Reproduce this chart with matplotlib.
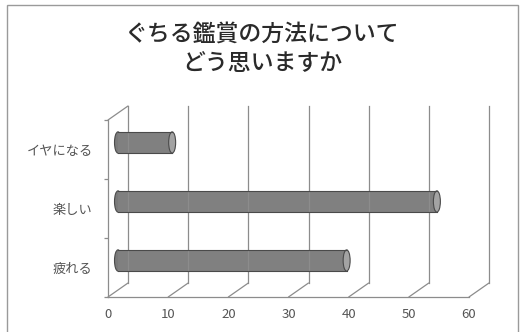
import numpy as np
import matplotlib.pyplot as plt
from matplotlib.patches import Rectangle, Ellipse
from matplotlib.transforms import offset_copy

plt.rcParams['font.family'] = ['Noto Sans CJK JP', 'DejaVu Sans']

# データ（下から順）
categories = ['疲れる', '楽しい', 'イヤになる']
values = [38, 53, 9]
xticks = [0, 10, 20, 30, 40, 50, 60]
title = 'ぐちる鑑賞の方法について\nどう思いますか'

W, H = 526, 332
fig = plt.figure(figsize=(W / 100, H / 100), dpi=100)
fig.patch.set_facecolor('white')

# 外枠
fig.add_artist(Rectangle((7 / W, -0.02), 511 / W, 1.0 - 5 / H + 0.02, transform=fig.transFigure,
                         fill=False, edgecolor='#9a9a9a', lw=1.0))

ax = fig.add_axes([108 / W, 35 / H, 361 / W, 177 / H])
for s in ax.spines.values():
    s.set_visible(False)
ax.patch.set_alpha(0)

DX, DY = 20, 14                       # 奥行きのずれ（ピクセル）
back = offset_copy(ax.transData, fig=fig, x=DX, y=DY, units='dots')
mid = offset_copy(ax.transData, fig=fig, x=DX / 2, y=DY / 2, units='dots')
gc = '#8c8c8c'
seg = dict(arrowstyle='-', color=gc, lw=0.9, shrinkA=0, shrinkB=0)

# 奥の壁の目盛線と床の斜線
for v in xticks:
    ax.plot([v, v], [0, 3], color=gc, lw=0.9, transform=back, clip_on=False)
    ax.annotate('', xy=(v, 0), xycoords=back, xytext=(v, 0), textcoords='data', arrowprops=seg)
# 左の壁
ax.plot([0, 0], [0, 3], color=gc, lw=0.9, clip_on=False)
ax.annotate('', xy=(0, 3), xycoords=back, xytext=(0, 3), textcoords='data', arrowprops=seg)
# 床の手前の線
ax.plot([0, 60], [0, 0], color=gc, lw=0.9, clip_on=False)

# 円柱
h = 0.36
cap_w = 7 / 6.02
grad = np.linspace(0, 1, 64).reshape(-1, 1)
grad = 1 - np.abs(grad - 0.45) * 2
for i, v in enumerate(values):
    yc = i + 0.5
    ax.add_patch(Ellipse((0, yc), cap_w, h, facecolor='#7a7a7a', edgecolor='#4a4a4a',
                         lw=0.8, transform=mid))
    body = Rectangle((0, yc - h / 2), v, h, facecolor='#808080', edgecolor='none', transform=mid)
    ax.add_patch(body)
    im = ax.imshow(grad, extent=(0, v, yc - h / 2, yc + h / 2), cmap='gray', vmin=-1.6, vmax=1.9,
                   aspect='auto', transform=mid, interpolation='bilinear')
    im.set_clip_path(body)
    ax.plot([0, v], [yc - h / 2, yc - h / 2], color='#4a4a4a', lw=0.8, transform=mid)
    ax.plot([0, v], [yc + h / 2, yc + h / 2], color='#4a4a4a', lw=0.8, transform=mid)
    ax.add_patch(Ellipse((v, yc), cap_w, h, facecolor='#a3a3a3', edgecolor='#4a4a4a',
                         lw=0.8, transform=mid))
ax.set_xlim(0, 60)
ax.set_ylim(0, 3)

# 目盛
ax.set_xticks(xticks)
ax.set_xticklabels([str(t) for t in xticks], color='#555555', fontsize=9.5)
ax.tick_params(axis='x', length=0, pad=8)
ax.set_yticks([0.5, 1.5, 2.5])
ax.set_yticklabels(categories, color='#555555', fontsize=9.5)
ax.tick_params(axis='y', which='major', length=0, pad=11)
ax.set_yticks([0, 1, 2, 3], minor=True)
ax.tick_params(axis='y', which='minor', length=3, color=gc, width=0.9)

fig.text(262 / W, 1 - 49 / H, title, ha='center', va='center', fontsize=16.5,
         fontweight='medium', color='#2a2a2a', linespacing=1.35)

fig.savefig('out.png', dpi=100)
